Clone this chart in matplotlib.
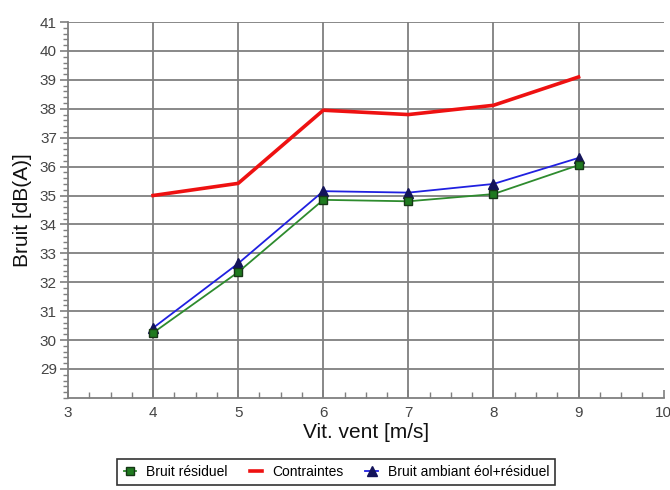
import matplotlib
matplotlib.use("Agg")
import matplotlib.pyplot as plt
from matplotlib.ticker import MultipleLocator

plt.rcParams['font.family'] = ['Liberation Sans', 'DejaVu Sans']

# wind speed classes and noise levels, dB(A)
vitesse = [4, 5, 6, 7, 8, 9]
bruit_residuel = [30.25, 32.35, 34.85, 34.8, 35.05, 36.05]
contraintes = [35.0, 35.42, 37.95, 37.8, 38.12, 39.1]
bruit_ambiant = [30.42, 32.65, 35.15, 35.1, 35.4, 36.3]

grid_col = '#7f7f7f'

fig = plt.figure(figsize=(6.7, 4.9), dpi=100)
ax = fig.add_axes([0.1015, 0.188, 0.889, 0.767])

# grid drawn by hand so that it stops at the last tick
for v in range(4, 10):
    ax.axvline(v, color=grid_col, lw=1.3, zorder=1)
for v in range(29, 42):
    ax.axhline(v, color=grid_col, lw=1.3, zorder=1)

ax.plot(vitesse, bruit_residuel, color='#2e8b2e', lw=1.3, marker='s',
        markersize=6, markerfacecolor='#1f7a1f', markeredgecolor='#163616',
        label='Bruit résiduel', zorder=3)
ax.plot(vitesse, contraintes, color='#ee1111', lw=2.6,
        label='Contraintes', zorder=3)
ax.plot(vitesse, bruit_ambiant, color='#2020e0', lw=1.3, marker='^',
        markersize=7, markerfacecolor='#14145a', markeredgecolor='#14145a',
        label='Bruit ambiant éol+résiduel', zorder=2)

ax.set_xlim(3, 10)
ax.set_ylim(28, 41)
ax.xaxis.set_major_locator(MultipleLocator(1))
ax.xaxis.set_minor_locator(MultipleLocator(0.25))
ax.yaxis.set_major_locator(MultipleLocator(1))
ax.yaxis.set_minor_locator(MultipleLocator(0.2))
ax.set_yticks(range(29, 42))

for s in ['top', 'right']:
    ax.spines[s].set_visible(False)
for s in ['left', 'bottom']:
    ax.spines[s].set_color(grid_col)
    ax.spines[s].set_linewidth(1.3)

ax.tick_params(axis='x', which='major', direction='in', length=6,
               color=grid_col, width=1.2, labelsize=11, labelcolor='#444444', pad=6)
ax.tick_params(axis='x', which='minor', direction='in', length=4,
               color=grid_col, width=1.0)
ax.tick_params(axis='y', which='major', direction='out', length=6,
               color=grid_col, width=1.2, labelsize=11, labelcolor='#444444', pad=2)
ax.tick_params(axis='y', which='minor', direction='out', length=3.5,
               color=grid_col, width=1.0)

ax.set_xlabel('Vit. vent [m/s]', fontsize=15, color='#111111', labelpad=2)
ax.set_ylabel('Bruit [dB(A)]', fontsize=15, color='#111111', labelpad=6)

leg = fig.legend(loc='upper center', bbox_to_anchor=(0.502, 0.078), ncol=3,
                 frameon=True, fancybox=False, fontsize=10, handlelength=0.9,
                 handletextpad=0.7, columnspacing=1.6, borderpad=0.45)
leg.get_frame().set_edgecolor('black')
leg.get_frame().set_linewidth(1.2)

fig.savefig('out.png', dpi=100)
